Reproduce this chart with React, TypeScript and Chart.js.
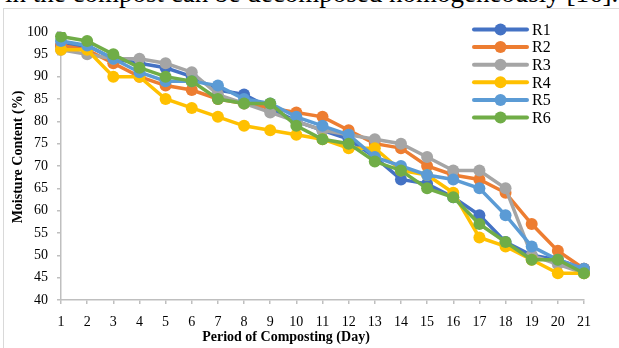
import React, { useEffect, useRef } from "react";
import { Chart, registerables } from "chart.js";

Chart.register(...registerables);

const days = ["1","2","3","4","5","6","7","8","9","10","11","12","13","14","15","16","17","18","19","20","21"];
const R1 = [97, 97, 94, 93, 92, 90, 87, 86, 83, 80, 78, 76, 72, 67, 66, 63, 59, 53, 50, 49, 47];
const R2 = [97, 96, 93, 90, 88, 87, 85, 84, 83, 82, 81, 78, 75, 74, 70, 68, 67, 64, 57, 51, 47];
const R3 = [96, 95, 94, 94, 93, 91, 86, 84, 82, 80, 78, 77, 76, 75, 72, 69, 69, 65, 50, 48, 46];
const R4 = [96, 96, 90, 90, 85, 83, 81, 79, 78, 77, 76, 74, 74, 69, 68, 64, 54, 52, 49, 46, 46];
const R5 = [98, 97, 94, 91, 89, 89, 88, 85, 84, 81, 79, 77, 72, 70, 68, 67, 65, 59, 52, 49, 47];
const R6 = [99, 98, 95, 92, 90, 89, 85, 84, 84, 79, 76, 75, 71, 69, 65, 63, 57, 53, 49, 49, 46];
const seriesNames = ["R1", "R2", "R3", "R4", "R5", "R6"];
const seriesColors = ["#4472C4", "#ED7D31", "#A5A5A5", "#FFC000", "#5B9BD5", "#70AD47"];
const seriesValues = [R1, R2, R3, R4, R5, R6];
const yTicks = [40, 45, 50, 55, 60, 65, 70, 75, 80, 85, 90, 95, 100];
const xTitle = "Period of Composting (Day)";
const yTitle = "Moisture Content (%)";

const FONT = "'Liberation Serif', 'Times New Roman', serif";

const overlayPlugin = {
  id: "overlay",
  afterDraw(chart: any) {
    const ctx = chart.ctx;
    ctx.save();
    chart.data.datasets.forEach((ds: any, i: number) => {
      const y = 29.5 + i * 17.6;
      ctx.strokeStyle = ds.borderColor;
      ctx.lineWidth = 4;
      ctx.lineCap = "round";
      ctx.beginPath();
      ctx.moveTo(474, y);
      ctx.lineTo(527, y);
      ctx.stroke();
      ctx.fillStyle = ds.borderColor;
      ctx.beginPath();
      ctx.arc(500.5, y, 6, 0, Math.PI * 2);
      ctx.fill();
      ctx.fillStyle = "#000";
      ctx.font = `16px ${FONT}`;
      ctx.textBaseline = "middle";
      ctx.textAlign = "left";
      ctx.fillText(ds.label, 532, y + 1);
    });
    ctx.fillStyle = "#000";
    ctx.font = `bold 14px ${FONT}`;
    ctx.textAlign = "center";
    ctx.textBaseline = "middle";
    ctx.fillText(xTitle, 286, 337);
    ctx.translate(18, 157);
    ctx.rotate(-Math.PI / 2);
    ctx.fillText(yTitle, 0, 0);
    ctx.restore();
  },
};

export default function App() {
  const ref = useRef<HTMLCanvasElement>(null);
  useEffect(() => {
    let chart: any = null;
    let cancelled = false;
    const make = () => {
      if (cancelled || !ref.current) return;
      chart = new Chart(ref.current, {
        type: "line",
        data: {
          labels: days,
          datasets: seriesNames.map((name, i) => ({
            label: name,
            data: seriesValues[i],
            borderColor: seriesColors[i],
            backgroundColor: seriesColors[i],
            borderWidth: 3.5,
            pointRadius: 6,
            pointBorderWidth: 0,
            pointBackgroundColor: seriesColors[i],
            tension: 0,
            order: seriesNames.length - i,
          })),
        },
        options: {
          responsive: false,
          animation: false,
          layout: { padding: { left: 6, top: 32, right: 35, bottom: 4 } },
          plugins: { legend: { display: false }, tooltip: { enabled: false } },
          scales: {
            x: {
              offset: false,
              afterFit: (s: any) => { s.height = 44; },
              grid: { drawOnChartArea: false, drawTicks: true, tickLength: 4, tickColor: "#BFBFBF", lineWidth: 1.5 },
              border: { color: "#BFBFBF", width: 1.5 },
              ticks: { color: "#000", font: { family: FONT, size: 14 }, padding: 10, maxRotation: 0, autoSkip: false },
              title: { display: false },
            },
            y: {
              min: 40,
              max: 100,
              afterFit: (s: any) => { s.width = 55; },
              afterBuildTicks: (s: any) => { s.ticks = yTicks.map((v) => ({ value: v })); },
              grid: { drawOnChartArea: false, drawTicks: true, tickLength: 4, tickColor: "#BFBFBF", lineWidth: 1.5 },
              border: { color: "#BFBFBF", width: 1.5 },
              ticks: { color: "#000", font: { family: FONT, size: 14 }, padding: 9 },
              title: { display: false },
            },
          },
        },
        plugins: [overlayPlugin],
      });
    };
    const fonts: any = (document as any).fonts;
    if (fonts && fonts.load) {
      Promise.all([
        fonts.load("14px 'Liberation Serif'"),
        fonts.load("bold 14px 'Liberation Serif'"),
      ]).then(make, make);
    } else {
      make();
    }
    return () => {
      cancelled = true;
      if (chart) chart.destroy();
    };
  }, []);
  return (
    <div style={{ position: "fixed", left: 0, top: 0, width: 619, height: 348, overflow: "hidden", background: "#fff" }}>
      <div
        style={{
          position: "absolute",
          left: 5,
          top: -20,
          width: 606,
          fontFamily: FONT,
          fontSize: 27,
          lineHeight: "27px",
          whiteSpace: "nowrap",
          textAlignLast: "justify",
          textAlign: "justify",
          color: "#000",
        }}
      >
        in the compost can be decomposed homogeneously [16].
      </div>
      <div style={{ position: "absolute", left: 3, top: 8, width: 700, height: 400, border: "1px solid #D9D9D9" }} />
      <canvas ref={ref} width={619} height={348} style={{ position: "absolute", left: 0, top: 0 }} />
    </div>
  );
}
